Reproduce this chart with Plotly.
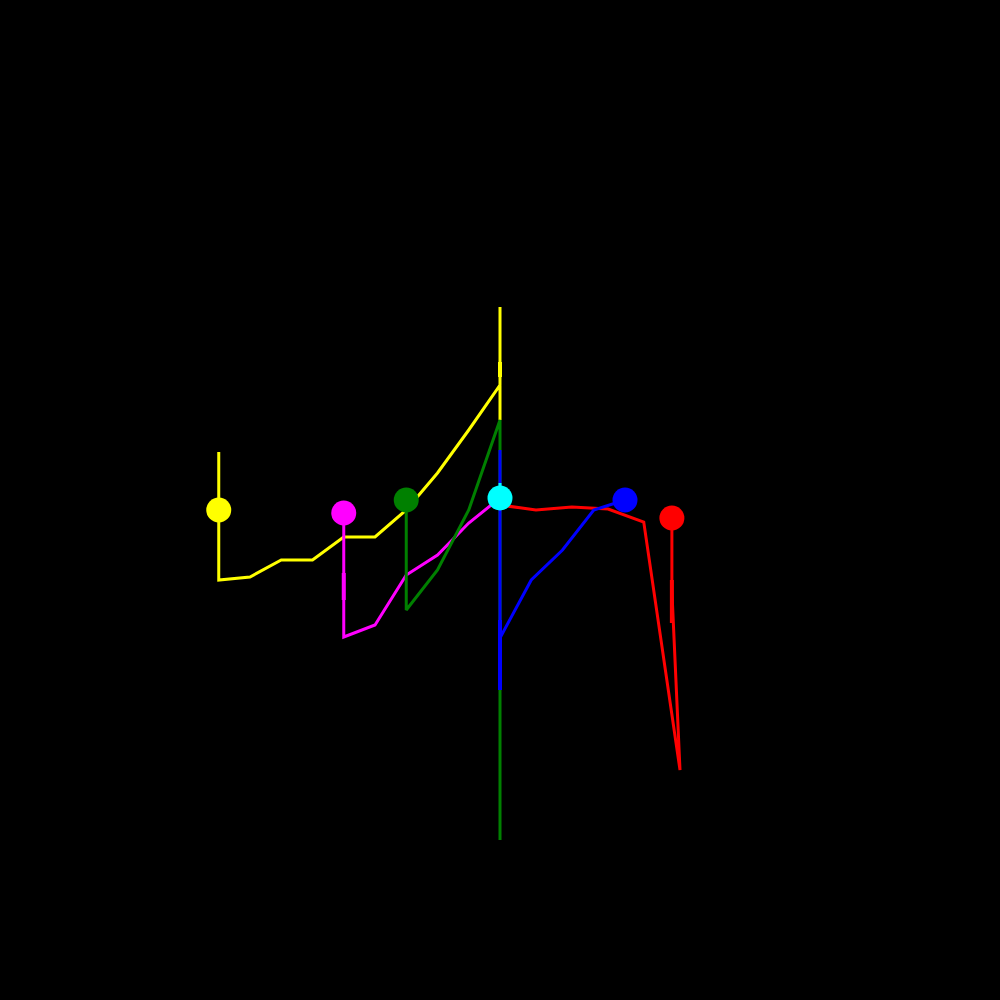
import plotly.graph_objects as go

# ---- data (abstract units; x = step index, y = value) ----
yellow_x = [-9, -9, -9, -8, -7, -6, -5, -4, -3, -2, -1, 0, 0, 0]
yellow_y = [1.536, -0.32, -2.56, -2.464, -1.92, -1.92, -1.184, -1.184, -0.32, 0.864, 2.24, 3.68, 6.176, 2.56]
yellow_start = (-9, -0.32)
yellow_body = ([0, 0], [4.416, 3.936])

magenta_x = [-5, -5, -4, -3, -2, -1, 0]
magenta_y = [-0.416, -4.384, -4.0, -2.4, -1.76, -0.736, 0.064]
magenta_start = (-5, -0.416)
magenta_body = ([-5, -5], [-2.336, -3.2])

green_x = [-3, -3, -2, -1, 0, 0]
green_y = [0.0, -3.52, -2.24, -0.32, 2.56, -10.88]
green_start = (-3, 0.0)

blue_x = [4, 3, 2, 1, 0, 0, 0]
blue_y = [0.0, -0.32, -1.6, -2.56, -4.416, 1.6, -6.08]
blue_start = (4, 0.0)
blue_body = ([0, 0], [-3.84, -6.08])

red_x = [0, 1.15, 2.3, 3.46, 4.6, 5.76, 5.5, 5.5]
red_y = [-0.16, -0.32, -0.224, -0.288, -0.704, -8.64, -2.9, -0.576]
red_start = (5.5, -0.576)
red_body = ([5.5, 5.5], [-2.56, -3.936])

cyan_x = [0, 0]
cyan_y = [0.544, 0.064]
cyan_start = (0, 0.064)

series = [
    ("yellow", "#ffff00", yellow_x, yellow_y, yellow_start, yellow_body),
    ("magenta", "#ff00ff", magenta_x, magenta_y, magenta_start, magenta_body),
    ("green", "#008000", green_x, green_y, green_start, None),
    ("red", "#ff0000", red_x, red_y, red_start, red_body),
    ("blue", "#0000ff", blue_x, blue_y, blue_start, blue_body),
    ("cyan", "#00ffff", cyan_x, cyan_y, cyan_start, None),
]

fig = go.Figure()
for name, col, xs, ys, start, body in series:
    fig.add_trace(go.Scatter(x=xs, y=ys, mode="lines", line=dict(color=col, width=3),
                             hoverinfo="skip", showlegend=False))
    if body is not None:
        fig.add_trace(go.Scatter(x=body[0], y=body[1], mode="lines", line=dict(color=col, width=4),
                                 hoverinfo="skip", showlegend=False))
for name, col, xs, ys, start, body in series:
    fig.add_trace(go.Scatter(x=[start[0]], y=[start[1]], mode="markers",
                             marker=dict(color=col, size=25, line=dict(width=0)),
                             hoverinfo="skip", showlegend=False))

fig.update_layout(
    width=1000, height=1000,
    margin=dict(l=0, r=0, t=0, b=0),
    paper_bgcolor="black", plot_bgcolor="black",
    xaxis=dict(range=[-16, 16], visible=False, showgrid=False, zeroline=False),
    yaxis=dict(range=[-16, 16], visible=False, showgrid=False, zeroline=False),
    showlegend=False,
)
fig.write_html("out.html")
